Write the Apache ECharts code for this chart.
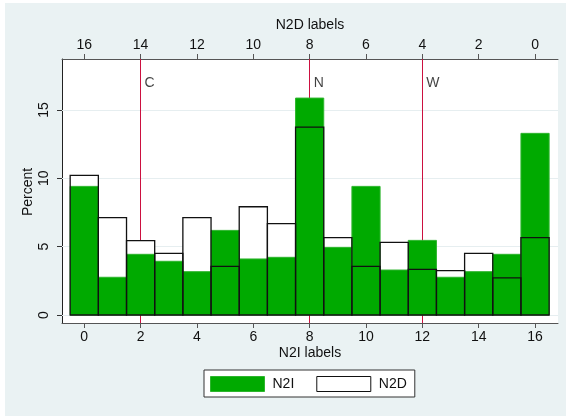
<!DOCTYPE html>
<html>
<head>
<meta charset="utf-8">
<script src="https://cdn.jsdelivr.net/npm/echarts@6/dist/echarts.min.js"></script>
<style>
html,body{margin:0;padding:0;background:#fff;}
#chart{width:566px;height:416px;}
</style>
</head>
<body>
<div id="chart"></div>
<script>
// ---- data ----
const categories = [0,1,2,3,4,5,6,7,8,9,10,11,12,13,14,15,16];
const n2i = [9.41,2.76,4.44,3.93,3.17,6.19,4.10,4.22,15.87,4.95,9.41,3.29,5.46,2.76,3.17,4.44,13.29];
const n2d = [10.22,7.12,5.44,4.51,7.12,3.56,7.92,6.68,13.75,5.66,3.56,5.32,3.34,3.24,4.51,2.71,5.66];
const bottomTicks = [0,2,4,6,8,10,12,14,16];
const topTicks = [0,2,4,6,8,10,12,14,16];
const yTicks = [0,5,10,15];
const refLines = [2,8,12];
const refLabels = ['C','N','W'];
const refLabelY = 16.95;

const FONT = 'Liberation Sans, Arial, sans-serif';
const GREEN = '#00aa00';
const RED = '#cc1040';

function barItem(arr){ return categories.map((c,i)=>[c, arr[i]]); }
function renderBar(style){
  return function(params, api){
    const x = api.value(0), y = api.value(1);
    const p0 = api.coord([x-0.5, y]);
    const p1 = api.coord([x+0.5, 0]);
    return {type:'rect', shape:{x:p0[0], y:p0[1], width:p1[0]-p0[0], height:p1[1]-p0[1]}, style: style};
  };
}

const chart = echarts.init(document.getElementById('chart'), null, {renderer:'canvas'});
chart.setOption({
  backgroundColor:'#fff',
  animation:false,
  textStyle:{fontFamily:FONT},
  graphic:[
    {type:'rect', z:-100, shape:{x:5,y:3,width:561,height:413}, style:{fill:'#eaf2f3'}},
    {type:'text', x:310, y:25, style:{text:'N2D labels', font:'14px '+FONT, fill:'#111', align:'center', verticalAlign:'middle'}},
    {type:'text', x:310, y:353, style:{text:'N2I labels', font:'14px '+FONT, fill:'#111', align:'center', verticalAlign:'middle'}},
    {type:'text', x:28, y:192, rotation:Math.PI/2, style:{text:'Percent', font:'14px '+FONT, fill:'#111', align:'center', verticalAlign:'middle'}}
  ],
  grid:{left:62, right:8, top:59, bottom:93, show:true, backgroundColor:'#fff', borderWidth:0},
  legend:{
    left:204, top:370, orient:'horizontal',
    padding:[6,8,5,6], itemGap:22, itemWidth:54, itemHeight:15, icon:'rect',
    backgroundColor:'#fff', borderColor:'#333', borderWidth:1, borderRadius:0,
    textStyle:{fontSize:14, color:'#111', fontFamily:FONT, padding:[0,0,0,3]},
    selectedMode:false,
    data:[
      {name:'N2I', itemStyle:{color:GREEN, borderColor:'#2db52d', borderWidth:1}},
      {name:'N2D', itemStyle:{color:'#fff', borderColor:'#111', borderWidth:1}}
    ]
  },
  xAxis:[
    {type:'value', position:'bottom', min:-0.79, max:16.815,
     axisLine:{show:true, onZero:false, lineStyle:{color:'#555', width:1}},
     axisTick:{show:true, length:5, customValues:bottomTicks, lineStyle:{color:'#555'}},
     axisLabel:{show:true, customValues:bottomTicks, margin:7, fontSize:14, color:'#111', fontFamily:FONT},
     splitLine:{show:false}},
    {type:'value', position:'top', inverse:true, min:-0.815, max:16.79,
     axisLine:{show:true, onZero:false, lineStyle:{color:'#555', width:1}},
     axisTick:{show:true, length:5, customValues:topTicks, lineStyle:{color:'#555'}},
     axisLabel:{show:true, customValues:topTicks, margin:7, fontSize:14, color:'#111', fontFamily:FONT},
     splitLine:{show:false}}
  ],
  yAxis:{type:'value', min:-0.585, max:18.73,
     axisLine:{show:true, onZero:false, lineStyle:{color:'#222', width:1}},
     axisTick:{show:true, length:5, customValues:yTicks, lineStyle:{color:'#333'}},
     axisLabel:{show:true, customValues:yTicks, rotate:90, margin:11, fontSize:14, color:'#111', fontFamily:FONT},
     splitLine:{show:false}},
  series:[
    {type:'line', name:'grid', data:[], z:1, silent:true,
     markLine:{z:1, silent:true, symbol:'none', animation:false, label:{show:false},
       lineStyle:{color:'#e6eef0', width:1, type:'solid'},
       data: yTicks.map(v=>({yAxis:v}))}},
    {type:'line', name:'ref', data:[], z:1, silent:true,
     markLine:{z:1, silent:true, symbol:'none', animation:false, label:{show:false},
       lineStyle:{color:RED, width:1, type:'solid'},
       data: refLines.map(v=>({xAxis:v}))}},
    {type:'custom', name:'N2D', z:2, data:barItem(n2d), renderItem:renderBar({fill:'#fff', stroke:null}),
     itemStyle:{color:'#fff', borderColor:'#111', borderWidth:1}},
    {type:'custom', name:'N2I', z:3, data:barItem(n2i), renderItem:renderBar({fill:GREEN, stroke:'#2db52d', lineWidth:1}),
     itemStyle:{color:GREEN}},
    {type:'custom', name:'N2D', z:4, data:barItem(n2d), renderItem:renderBar({fill:null, stroke:'#111', lineWidth:1.3}),
     itemStyle:{color:'#fff', borderColor:'#111', borderWidth:1}},
    {type:'scatter', name:'labels', z:5, symbolSize:0, silent:true,
     data: refLines.map((x,i)=>({value:[x, refLabelY], label:{show:true, formatter:refLabels[i]}})),
     label:{show:true, position:'right', distance:4, fontSize:14, color:'#111', fontFamily:FONT}}
  ]
});
</script>
</body>
</html>
